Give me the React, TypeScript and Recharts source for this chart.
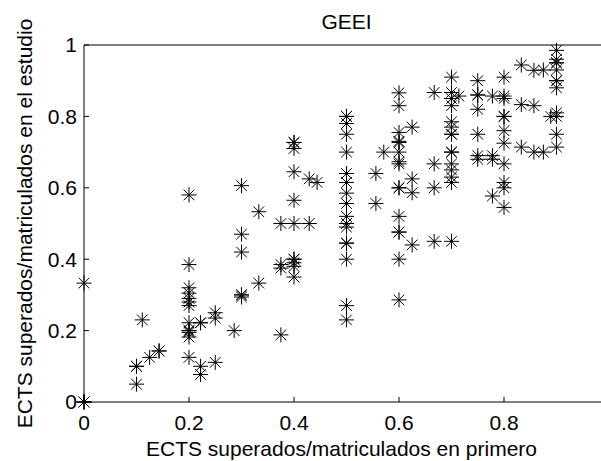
import { ScatterChart, Scatter, XAxis, YAxis, Label } from "recharts";

// x positions (first-year ratio) and the study ratios
const xColumns = [
  0, 0.1, 0.111, 0.125, 0.143, 0.2, 0.222, 0.25, 0.286, 0.3, 0.333, 0.375, 0.4, 0.429, 0.444, 0.5,
  0.556, 0.571, 0.6, 0.625, 0.667, 0.7, 0.714, 0.75, 0.778, 0.8, 0.833, 0.857, 0.875, 0.889, 0.9,
];
const yColumns = [
  [0, 0, 0, 0.333],
  [0.1, 0.1, 0.05],
  [0.23],
  [0.125],
  [0.143, 0.143],
  [0.58, 0.385, 0.32, 0.305, 0.29, 0.28, 0.27, 0.222, 0.2, 0.2, 0.195, 0.182, 0.125],
  [0.222, 0.222, 0.1, 0.077],
  [0.25, 0.235, 0.111],
  [0.2],
  [0.606, 0.47, 0.42, 0.3, 0.3, 0.294],
  [0.533, 0.333],
  [0.5, 0.385, 0.375, 0.188],
  [0.727, 0.727, 0.71, 0.645, 0.565, 0.5, 0.4, 0.4, 0.39, 0.38, 0.35],
  [0.625, 0.5],
  [0.615],
  [0.8, 0.8, 0.78, 0.75, 0.7, 0.64, 0.615, 0.585, 0.556, 0.52, 0.5, 0.5, 0.49, 0.445, 0.445, 0.4, 0.27, 0.23],
  [0.64, 0.556],
  [0.7],
  [0.866, 0.83, 0.755, 0.73, 0.727, 0.7, 0.673, 0.667, 0.6, 0.6, 0.52, 0.476, 0.476, 0.4, 0.286],
  [0.77, 0.625, 0.586, 0.44],
  [0.867, 0.667, 0.6, 0.45],
  [0.91, 0.867, 0.85, 0.83, 0.785, 0.77, 0.75, 0.75, 0.7, 0.7, 0.667, 0.65, 0.63, 0.615, 0.45],
  [0.857],
  [0.9, 0.86, 0.86, 0.82, 0.75, 0.69, 0.68],
  [0.857, 0.69, 0.68, 0.577],
  [0.91, 0.857, 0.85, 0.8, 0.8, 0.76, 0.725, 0.667, 0.615, 0.6, 0.545],
  [0.944, 0.833, 0.714],
  [0.929, 0.83, 0.7],
  [0.93, 0.7],
  [0.8],
  [0.985, 0.96, 0.95, 0.95, 0.93, 0.9, 0.9, 0.88, 0.81, 0.8, 0.75, 0.714],
];
// the x=1 end of the axes falls just outside the cropped picture
const xTicks = [0, 0.2, 0.4, 0.6, 0.8];
const yTicks = [0, 0.2, 0.4, 0.6, 0.8, 1];
const title = "GEEI";
const xLabel = "ECTS superados/matriculados en primero";
const yLabel = "ECTS superados/matriculados en el estudio";

const data = xColumns.flatMap((x, i) => yColumns[i].map((y) => ({ x, y })));

const font = "'Liberation Sans', Arial, Helvetica, sans-serif";
const tickStyle = { fill: "#000", fontSize: 21, fontFamily: font };

// matlab-like '*' marker
function Asterisk(props: any) {
  const { cx, cy } = props;
  if (cx == null || cy == null) return null;
  const r = 7.5;
  const d = 5.3;
  return (
    <g stroke="#000" strokeWidth={1} fill="none">
      <line x1={cx - r} y1={cy} x2={cx + r} y2={cy} />
      <line x1={cx} y1={cy - r} x2={cx} y2={cy + r} />
      <line x1={cx - d} y1={cy - d} x2={cx + d} y2={cy + d} />
      <line x1={cx - d} y1={cy + d} x2={cx + d} y2={cy - d} />
    </g>
  );
}

export default function App() {
  return (
    <div
      style={{
        position: "absolute",
        left: 0,
        top: 0,
        width: 601,
        height: 461,
        overflow: "hidden",
        background: "#fff",
      }}
    >
      <ScatterChart width={620} height={461} margin={{ top: 44, right: 11, bottom: 19, left: 24 }}>
        <XAxis
          xAxisId="top"
          orientation="top"
          type="number"
          dataKey="x"
          domain={[0, 1]}
          ticks={xTicks}
          interval={0}
          height={1}
          tick={false}
          tickSize={-5}
          axisLine={{ stroke: "#000" }}
          tickLine={{ stroke: "#000" }}
        >
          <Label value={title} position="top" offset={15} style={{ ...tickStyle }} />
        </XAxis>
        <XAxis
          type="number"
          dataKey="x"
          domain={[0, 1]}
          ticks={xTicks}
          interval={0}
          height={40}
          tickSize={-5}
          tickMargin={18}
          tick={tickStyle}
          axisLine={{ stroke: "#000" }}
          tickLine={{ stroke: "#000" }}
        >
          <Label value={xLabel} position="bottom" offset={-1} dx={-5} style={{ ...tickStyle }} />
        </XAxis>
        <YAxis
          type="number"
          dataKey="y"
          domain={[0, 1]}
          ticks={yTicks}
          interval={0}
          width={60}
          tickSize={-5}
          tickMargin={12}
          tick={tickStyle}
          axisLine={{ stroke: "#000" }}
          tickLine={{ stroke: "#000" }}
        >
          <Label
            value={yLabel}
            position="insideLeft"
            angle={-90}
            offset={1}
            style={{ ...tickStyle, textAnchor: "middle" }}
          />
        </YAxis>
        <Scatter data={data} shape={<Asterisk />} isAnimationActive={false} />
      </ScatterChart>
    </div>
  );
}
